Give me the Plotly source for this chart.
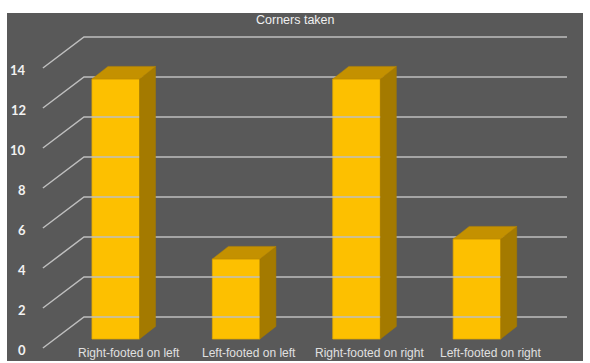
import plotly.graph_objects as go

# Data
categories = ["Right-footed on left", "Left-footed on left", "Right-footed on right", "Left-footed on right"]
corners = [13, 4, 13, 5]
y_ticks = [0, 2, 4, 6, 8, 10, 12, 14]
title_text = "Corners taken"

# Pseudo-3D geometry (x in category units, y in value units)
BAR_W = 0.395
DX, DY = 0.133, 0.63          # depth offset of bar top/side faces
WALL_DY = 1.1                  # back wall raised relative to bar base
FLOOR_DY = -0.45               # front edge of floor relative to bar base
WALL_X0, WALL_X1 = -0.264, 3.748
FRONT_X = -0.605

FRONT = "#FDC000"
TOP = "#C49100"
SIDE = "#A47A00"
BG = "#595959"
GRID = "#BFBFBF"

fig = go.Figure()

# Back wall gridlines and diagonal floor/wall guides
for v in y_ticks:
    fig.add_trace(go.Scatter(
        x=[FRONT_X, WALL_X0, WALL_X1],
        y=[v + FLOOR_DY, v + WALL_DY, v + WALL_DY],
        mode="lines", line=dict(color=GRID, width=1.5),
        hoverinfo="skip", showlegend=False))

xs = list(range(len(categories)))

# Side and top faces
for i, v in zip(xs, corners):
    x0, x1 = i - BAR_W / 2, i + BAR_W / 2
    fig.add_trace(go.Scatter(
        x=[x1, x1 + DX, x1 + DX, x1, x1],
        y=[0, DY, v + DY, v, 0],
        fill="toself", fillcolor=SIDE, mode="lines",
        line=dict(color=SIDE, width=0.5),
        hoverinfo="skip", showlegend=False))
    fig.add_trace(go.Scatter(
        x=[x0, x1, x1 + DX, x0 + DX, x0],
        y=[v, v, v + DY, v + DY, v],
        fill="toself", fillcolor=TOP, mode="lines",
        line=dict(color="#B88700", width=0.5),
        hoverinfo="skip", showlegend=False))

# Front faces
fig.add_trace(go.Bar(
    x=xs, y=corners, width=BAR_W,
    marker=dict(color=FRONT, line=dict(color="#E0A800", width=0.8)),
    showlegend=False, hoverinfo="skip"))

annotations = []
for v in y_ticks:
    annotations.append(dict(
        x=-0.729, y=v + FLOOR_DY - 0.1, text=str(v), showarrow=False,
        xanchor="right", yanchor="middle",
        font=dict(family="Lato", size=13, color="#F2F2F2", weight="bold")))
for i, c in zip(xs, categories):
    annotations.append(dict(
        x=i + 0.11, y=-0.72, text=c, showarrow=False,
        xanchor="center", yanchor="middle",
        font=dict(family="Liberation Sans", size=12, color="#E0E0E0")))
annotations.append(dict(
    x=0.5, xref="paper", y=1 - 20 / 363, yref="paper", text=title_text,
    showarrow=False, xanchor="center", yanchor="middle",
    font=dict(family="Liberation Sans", size=12.5, color="#F0F0F0")))

fig.update_layout(
    width=590, height=363,
    margin=dict(l=0, r=0, t=0, b=0),
    paper_bgcolor="white", plot_bgcolor="rgba(0,0,0,0)",
    barmode="overlay",
    xaxis=dict(range=[-0.9614, 3.9389], visible=False, fixedrange=True),
    yaxis=dict(range=[-1.2, 16.95], visible=False, fixedrange=True),
    shapes=[dict(type="rect", xref="paper", yref="paper", layer="below",
                 x0=7 / 590, x1=583 / 590, y0=1 - 361 / 363, y1=1 - 13 / 363,
                 fillcolor=BG, line=dict(width=0))],
    annotations=annotations,
)

fig.write_html("out.html")
